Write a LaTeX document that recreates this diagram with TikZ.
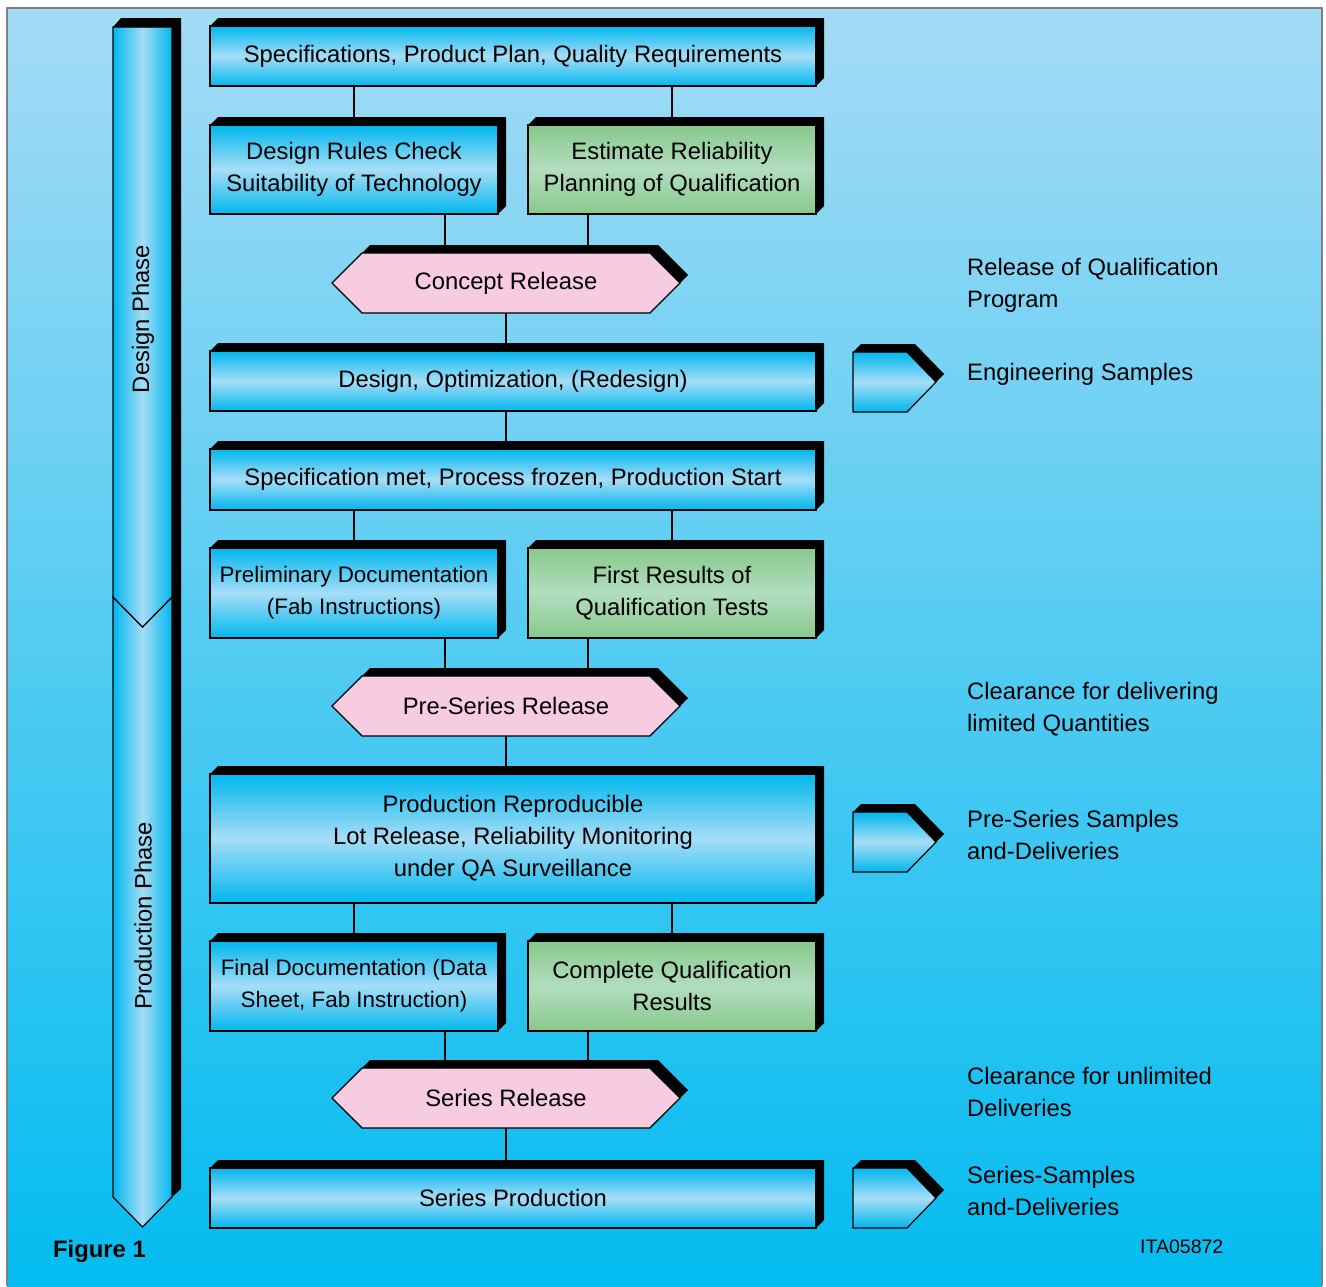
\documentclass[tikz,border=0pt]{standalone}
\usepackage{fontspec}
\setmainfont{Liberation Sans}
\usepackage{tikz}
\definecolor{cyanbox}{HTML}{00B7EE}
\definecolor{lightbox}{HTML}{A6DDF6}
\definecolor{greenbox}{HTML}{88C98A}
\definecolor{lightgreen}{HTML}{B2DDC0}
\definecolor{pinkbox}{HTML}{F8CCE0}
\definecolor{bgtop}{HTML}{A4DBF5}
\definecolor{bgbottom}{HTML}{03BCF0}
\newcommand{\boxfont}{\fontsize{23.8}{32}\selectfont}
\newcommand{\tightfont}{\fontsize{22.4}{32}\selectfont}
\tikzstyle{bluebox} = [draw=black, line width=1.2pt, rectangle, outer sep=0pt, inner sep=0pt, align=center, font=\boxfont, top color=cyanbox, bottom color=cyanbox, middle color=lightbox]
\tikzstyle{greenbox} = [bluebox, top color=greenbox, bottom color=greenbox, middle color=lightgreen]
\tikzstyle{release} = [fill=pinkbox, rectangle, outer sep=0pt, inner sep=0pt, minimum width=288pt, minimum height=60pt, font=\boxfont]
\tikzstyle{wide} = [minimum width=606pt]
\tikzstyle{half} = [minimum width=288pt]
\tikzstyle{link} = [line width=1.2pt]
\tikzstyle{remark} = [anchor=north west, align=left, inner sep=0pt, font=\boxfont]
% black depth on top and right side of a box
\newcommand{\boxdepth}[1]{\fill (#1.north west) -- ++(8,-8) -- ([shift={(8,-8)}]#1.north east) -- ([shift={(8,-8)}]#1.south east) -- (#1.south east) -- (#1.north east) -- cycle;}
% pointed ends and depth of a release
\newcommand{\releaseends}[1]{
	\fill[pinkbox] ([xshift=-2]#1.north east) -- ([xshift=30]#1.east) -- ([xshift=-2]#1.south east) -- cycle;
	\fill[pinkbox] ([xshift=2]#1.north west) -- ([xshift=-30]#1.west) -- ([xshift=2]#1.south west) -- cycle;
	\draw[link] (#1.north west) -- (#1.north east) -- ([xshift=30]#1.east) -- (#1.south east) -- (#1.south west) -- ([xshift=-30]#1.west) -- cycle;
	\fill (#1.north west) -- ++(8,-8) -- ([shift={(8,-8)}]#1.north east) -- ([shift={(38,-8)}]#1.east) -- ([xshift=30]#1.east) -- (#1.north east) -- cycle;}

\begin{document}
\begin{tikzpicture}[x=1pt, y=-1pt]
	\useasboundingbox (0,0) rectangle (1326,1286);
	\shade[top color=bgtop, bottom color=bgbottom] (7,8) rectangle (1322,1286);
	\draw[gray, line width=1.5pt] (7,1286) -- (7,8) -- (1322,8) -- (1322,1286);

	% phases
	\shade[left color=cyanbox, right color=cyanbox, middle color=lightbox, draw=black, line width=1.2pt] (113,597) -- (142.5,627) -- (172,597) -- (172,1197) -- (142.5,1227) -- (113,1197) -- cycle;
	\shade[left color=cyanbox, right color=cyanbox, middle color=lightbox, draw=black, line width=1.2pt] (113,27) -- (172,27) -- (172,597) -- (142.5,627) -- (113,597) -- cycle;
	\fill (113,27) -- (121,18) -- (181,18) -- (181,1189) -- (172,1197) -- (172,27) -- cycle;
	\node[rotate=90, font=\boxfont] (designphase) at (143,319) {Design Phase};
	\node[rotate=90, font=\boxfont] (prodphase) at (143,916) {Production Phase};

	% boxes
	\node[bluebox, wide, minimum height=60pt] (spec) at (513,56) {Specifications, Product Plan, Quality Requirements};
	\node[bluebox, half, minimum height=89pt] (drc) at (354,169.5) {Design Rules Check\\Suitability of Technology};
	\node[greenbox, half, minimum height=89pt] (est) at (672,169.5) {Estimate Reliability\\Planning of Qualification};
	\node[release] (concept) at (506,283) {Concept Release};
	\node[bluebox, wide, minimum height=60pt] (design) at (513,381) {Design, Optimization, (Redesign)};
	\node[bluebox, wide, minimum height=61pt] (met) at (513,479.5) {Specification met, Process frozen, Production Start};
	\node[bluebox, half, minimum height=90pt, font=\tightfont] (prelim) at (354,593) {Preliminary Documentation\\(Fab Instructions)};
	\node[greenbox, half, minimum height=90pt] (first) at (672,593) {First Results of\\Qualification Tests};
	\node[release] (preseries) at (506,706) {Pre-Series Release};
	\node[bluebox, wide, minimum height=129pt] (prod) at (513,838.5) {Production Reproducible\\Lot Release, Reliability Monitoring\\under QA Surveillance};
	\node[bluebox, half, minimum height=90pt, font=\tightfont] (final) at (354,986) {Final Documentation (Data\\Sheet, Fab Instruction)};
	\node[greenbox, half, minimum height=90pt] (complete) at (672,986) {Complete Qualification\\Results};
	\node[release] (series) at (506,1098) {Series Release};
	\node[bluebox, wide, minimum height=60pt] (seriesprod) at (513,1198) {Series Production};

	\foreach \b in {spec,drc,est,design,met,prelim,first,prod,final,complete,seriesprod}
		{\boxdepth{\b}}
	\foreach \r in {concept,preseries,series}
		{\releaseends{\r}}

	% connectors
	\draw[link] (drc.north) -- (drc.north |- spec.south);
	\draw[link] (est.north) -- (est.north |- spec.south);
	\draw[link] ([xshift=91]drc.south) -- ([xshift=91]drc.south |- concept.north);
	\draw[link] ([xshift=-84]est.south) -- ([xshift=-84]est.south |- concept.north);
	\draw[link] (concept.south) -- (concept.south |- design.north);
	\draw[link] (design.south -| concept.south) -- (met.north -| concept.south);
	\draw[link] (prelim.north) -- (prelim.north |- met.south);
	\draw[link] (first.north) -- (first.north |- met.south);
	\draw[link] ([xshift=91]prelim.south) -- ([xshift=91]prelim.south |- preseries.north);
	\draw[link] ([xshift=-84]first.south) -- ([xshift=-84]first.south |- preseries.north);
	\draw[link] (preseries.south) -- (preseries.south |- prod.north);
	\draw[link] (final.north) -- (final.north |- prod.south);
	\draw[link] (complete.north) -- (complete.north |- prod.south);
	\draw[link] ([xshift=91]final.south) -- ([xshift=91]final.south |- series.north);
	\draw[link] ([xshift=-84]complete.south) -- ([xshift=-84]complete.south |- series.north);
	\draw[link] (series.south) -- (series.south |- seriesprod.north);

	% samples
	\foreach \y in {352,812,1168}{
		\shade[top color=cyanbox, bottom color=cyanbox, middle color=lightbox, draw=black, line width=1.2pt] (853,\y) -- ++(54,0) -- ++(29,30) -- ++(-29,30) -- ++(-54,0) -- cycle;
		\fill (853,\y) -- ++(8,-8) -- ++(54,0) -- ++(29,30) -- ++(-8,8) -- ++(-29,-30) -- cycle;
	}

	% remarks
	\node[remark] (qualprog) at (967,258) {Release of Qualification\\Program};
	\node[remark] (engsamples) at (967,363) {Engineering Samples};
	\node[remark] (limited) at (967,682) {Clearance for delivering\\limited Quantities};
	\node[remark] (presamples) at (967,810) {Pre-Series Samples\\and-Deliveries};
	\node[remark] (unlimited) at (967,1067) {Clearance for unlimited\\Deliveries};
	\node[remark] (sersamples) at (967,1166) {Series-Samples\\and-Deliveries};

	\node[anchor=north west, inner sep=0pt, font=\bfseries\boxfont] (figure) at (53,1240) {Figure 1};
	\node[anchor=north west, inner sep=0pt, font=\fontsize{19.5}{24}\selectfont] (code) at (1140,1240) {ITA05872};
\end{tikzpicture}
\end{document}
